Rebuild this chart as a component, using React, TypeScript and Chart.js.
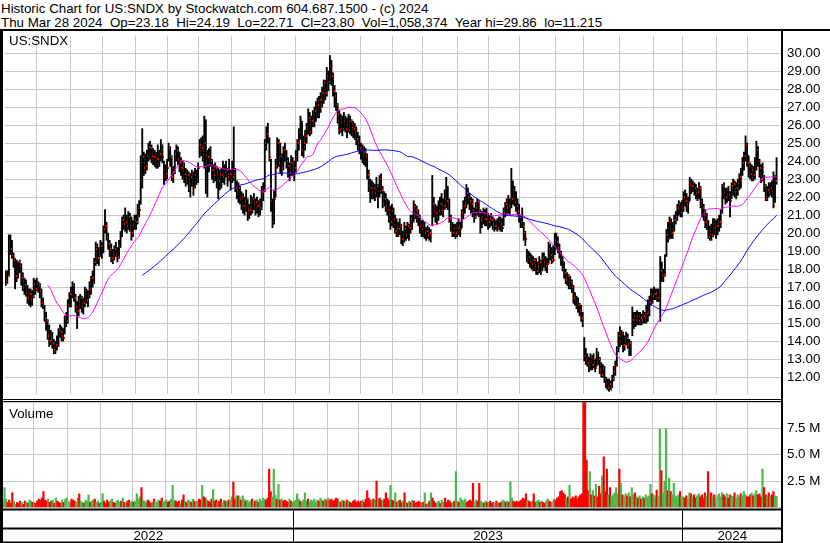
import React, { useEffect, useRef } from "react";
import { Chart, registerables } from "chart.js";

Chart.register(...registerables);

const FONT = "'Liberation Sans', Arial, Helvetica, sans-serif";

// ---- categories: trading-day buckets per month ----
const monthNames = [
  "2022-04", "2022-05", "2022-06", "2022-07", "2022-08", "2022-09", "2022-10", "2022-11", "2022-12",
  "2023-01", "2023-02", "2023-03", "2023-04", "2023-05", "2023-06", "2023-07", "2023-08", "2023-09",
  "2023-10", "2023-11", "2023-12", "2024-01", "2024-02", "2024-03",
];
const monthBars = [20, 22, 21, 21, 21, 20, 21, 21, 20, 22, 20, 21, 19, 23, 20, 20, 23, 18, 23, 22, 19, 22, 20, 19];

// ---- daily price data (US:SNDX) ----
const highs = [
  17.9,17.9,19.9,19.9,19.6,18.9,18.6,18.5,18.4,18.5,18.3,17.8,17.5,17.4,17.1,16.9,16.9,16.8,17.5,17.4,
  17.5,17.3,17.2,16.9,16.4,16.0,15.6,15.2,14.9,14.6,14.5,14.1,14.0,14.3,14.7,14.9,14.8,14.7,15.4,15.6,16.3,16.7,
  17.0,17.3,17.2,16.6,16.2,16.5,16.6,16.5,16.4,17.0,16.9,16.8,17.3,17.6,17.9,18.6,19.5,19.4,19.2,19.6,19.5,
  20.4,21.3,20.6,20.0,19.6,19.4,19.1,19.3,19.5,19.2,19.6,20.1,20.9,21.0,21.4,21.0,21.2,21.1,20.9,20.7,21.0,
  21.0,21.6,21.8,24.3,25.8,24.5,24.4,24.6,25.0,25.1,24.9,24.7,24.6,24.5,24.9,24.6,25.2,24.9,24.0,23.8,24.1,
  25.0,24.8,24.3,23.7,24.6,24.9,24.8,24.5,24.2,24.0,23.9,23.6,23.5,23.4,23.3,23.5,23.4,23.6,23.5,23.9,
  25.2,25.3,25.4,26.5,26.3,24.6,24.7,24.8,24.1,23.8,23.9,23.7,23.6,23.5,23.6,24.0,23.8,24.0,23.6,24.1,23.5,
  24.0,25.9,23.6,22.9,22.8,22.6,22.3,22.2,22.0,22.4,21.9,21.6,22.1,22.0,22.2,21.9,22.0,21.8,21.9,22.6,22.8,
  25.2,25.9,26.1,25.3,24.1,21.9,22.4,24.1,25.3,25.2,25.0,24.4,24.8,25.0,24.6,24.2,23.9,24.3,24.2,24.0,
  24.6,25.2,25.8,26.5,26.2,25.4,25.7,26.1,26.9,26.7,26.5,26.8,27.0,27.3,27.5,27.6,27.8,28.1,28.5,28.5,29.2,29.0,
  29.86,29.6,28.9,28.2,27.8,27.2,26.8,26.6,26.5,26.7,26.5,26.4,26.6,26.5,26.3,26.2,26.1,25.9,25.6,25.4,
  25.0,24.9,24.8,24.7,24.4,23.5,23.0,22.9,22.8,22.7,23.1,22.7,23.2,23.3,22.6,22.3,22.2,21.9,21.8,21.5,21.6,
  21.4,21.0,20.8,20.6,20.8,20.5,20.1,20.6,20.4,20.6,20.5,21.0,21.0,21.8,21.6,21.5,21.3,21.0,20.7,
  20.7,20.6,20.3,20.4,20.3,20.2,23.2,22.0,21.6,21.5,21.8,22.0,22.2,21.9,22.4,23.1,22.6,21.9,21.0,20.6,20.5,20.5,20.6,
  20.8,20.6,21.3,21.8,22.0,22.7,22.5,22.2,22.0,21.9,21.4,21.7,21.9,21.8,21.3,21.2,21.4,21.3,21.4,21.1,
  21.0,21.1,20.9,20.8,20.7,20.8,20.9,20.9,20.8,21.4,21.7,21.9,22.1,21.9,23.6,22.9,22.6,22.3,21.9,21.6,
  21.0,21.4,20.6,20.1,19.1,19.0,18.9,18.8,18.7,18.6,18.6,18.4,18.7,18.5,18.9,18.9,18.7,18.6,19.5,19.4,19.2,19.3,20.0,
  20.0,19.8,19.4,19.0,18.7,18.4,18.0,17.8,17.7,17.6,17.4,17.1,16.7,16.5,16.4,16.1,16.0,15.6,
  14.2,13.6,13.3,13.1,13.3,13.2,13.3,13.0,13.6,13.4,13.1,12.8,12.7,12.6,12.0,11.9,11.9,11.8,12.1,12.6,12.9,13.7,14.5,
  14.8,14.6,14.5,14.3,14.5,14.4,14.1,14.0,15.9,15.6,15.6,15.7,15.6,15.6,15.5,15.7,15.6,16.0,16.3,16.5,16.9,16.9,
  17.0,16.9,16.9,16.9,18.7,18.4,18.0,18.8,20.2,20.6,20.9,20.8,20.6,21.0,21.2,21.6,21.8,21.7,21.8,
  22.3,22.4,22.2,22.0,23.1,23.0,22.9,22.8,22.7,22.5,22.8,22.6,21.9,21.6,21.3,21.1,20.7,20.4,20.5,20.8,20.8,20.7,
  20.8,21.0,21.3,22.7,22.8,22.5,22.5,22.6,22.3,22.8,23.0,22.9,22.8,23.0,23.3,23.6,24.2,24.5,25.4,25.0,
  24.3,23.9,23.8,23.7,24.2,25.1,24.8,24.1,23.8,23.9,23.2,22.7,22.6,22.8,22.8,22.9,23.4,23.2,24.19,
];
const lows = [
  17.1,17.2,17.6,18.8,18.6,18.1,16.9,17.3,17.5,17.8,17.1,16.8,16.6,16.5,16.1,16.0,15.9,16.0,16.4,16.6,
  16.8,16.7,16.4,15.9,15.8,15.1,14.6,14.1,13.7,13.8,13.6,13.3,13.3,13.5,13.7,14.2,14.0,14.0,14.4,14.8,15.0,15.9,
  15.9,16.4,16.2,15.6,14.7,15.4,15.8,15.6,15.5,15.9,16.1,15.9,16.4,16.6,17.0,17.2,18.2,18.3,18.2,18.7,18.6,
  18.9,20.0,19.6,19.1,18.7,18.4,18.3,18.5,18.7,18.4,18.6,19.2,19.8,20.2,20.1,20.0,20.2,20.1,19.6,19.8,20.2,
  20.2,20.5,20.9,21.6,22.5,23.2,23.3,23.5,24.0,24.1,23.9,23.8,23.7,23.6,23.6,23.7,24.0,23.9,22.7,22.9,23.0,
  24.0,23.7,22.9,22.8,23.3,24.0,23.8,23.4,23.2,23.0,22.8,22.6,22.7,22.3,22.0,22.6,22.1,22.5,22.7,22.8,
  24.2,24.3,24.0,23.6,22.2,22.0,23.4,23.7,23.0,22.8,22.9,22.5,21.9,22.4,22.5,22.8,22.7,23.1,22.6,22.9,22.4,
  22.8,22.9,22.3,21.9,21.7,21.6,21.3,21.1,21.0,21.2,20.7,20.8,21.0,21.1,21.3,21.0,21.1,20.9,21.0,21.3,21.8,
  22.3,24.6,25.0,24.0,21.2,20.3,20.5,22.0,23.6,23.7,23.3,23.2,23.5,24.0,23.6,23.1,22.9,23.2,23.2,22.9,
  23.4,24.0,24.6,25.2,24.3,24.2,24.6,25.0,25.5,25.4,25.5,25.9,25.9,26.2,26.4,26.4,26.7,27.0,27.2,27.4,27.6,27.9,
  28.3,28.2,27.6,27.0,26.8,26.1,25.5,25.6,25.4,25.7,25.6,25.3,25.6,25.5,25.4,25.3,25.2,24.9,24.6,24.4,
  24.1,23.9,23.8,23.7,23.0,22.3,21.7,21.9,21.9,21.8,22.0,21.4,22.0,22.2,21.4,21.5,21.2,21.0,20.6,20.2,20.4,
  20.3,20.0,19.8,19.8,19.9,19.4,19.3,19.5,19.6,19.7,19.6,20.0,20.2,20.6,20.8,20.6,20.4,20.0,19.8,
  19.8,19.7,19.6,19.7,19.6,19.5,20.4,20.9,20.6,20.5,20.7,21.0,21.0,20.9,21.3,21.4,21.3,20.6,20.1,19.8,19.8,19.7,19.8,
  19.9,19.8,20.3,20.8,21.1,21.4,21.6,21.3,21.1,20.9,20.6,20.8,21.0,20.9,20.0,20.3,20.5,20.4,20.4,20.2,
  20.3,20.4,20.2,20.1,20.2,20.1,20.2,20.1,20.1,20.4,20.9,21.0,21.1,21.0,21.4,21.6,21.5,21.2,21.0,20.6,
  20.3,20.3,19.6,19.3,18.4,18.3,18.1,18.0,17.9,17.9,17.7,17.7,17.8,17.7,17.9,18.1,17.9,17.8,18.3,18.5,18.3,18.4,18.8,
  19.1,18.9,18.6,18.2,17.9,17.5,17.2,17.1,16.9,16.9,16.7,16.1,16.0,15.8,15.6,15.4,15.1,14.8,
  12.9,12.7,12.6,12.3,12.4,12.4,12.5,12.3,12.6,12.7,12.2,12.0,12.0,11.7,11.4,11.3,11.215,11.3,11.4,11.8,12.1,12.6,13.4,
  13.7,13.8,13.4,13.5,13.8,13.6,13.2,13.2,14.3,14.7,14.8,14.9,14.9,14.9,14.9,15.0,15.0,15.0,15.1,15.4,16.0,16.1,
  16.3,16.3,16.2,16.2,15.1,17.3,17.3,17.6,18.7,19.5,19.7,19.7,19.7,20.1,20.5,20.7,21.0,20.9,20.9,
  21.2,21.5,21.2,21.1,21.8,22.2,22.3,22.1,21.9,21.8,21.9,21.4,20.9,20.7,20.3,20.2,19.7,19.6,19.6,19.8,19.9,19.7,
  19.9,20.1,20.3,21.1,21.9,21.6,21.7,21.8,20.9,21.9,22.1,22.0,21.9,22.1,22.4,22.5,23.2,23.5,24.0,23.7,
  23.1,23.0,22.9,22.9,23.0,23.5,23.7,23.1,22.8,22.9,22.3,21.8,21.8,22.0,22.1,22.0,21.4,21.7,22.71,
];
const closes = [
  17.3,17.6,19.5,19.1,18.8,18.6,17.6,17.9,18.4,18.2,17.5,16.95,17.1,16.7,16.4,16.6,16.3,16.5,17.2,16.9,
  17.2,17.1,16.8,16.1,16.0,15.3,15.1,14.3,14.0,14.1,13.9,13.5,13.8,13.6,14.6,14.5,14.3,14.2,15.3,15.1,16.0,16.6,
  16.6,17.1,16.4,15.9,15.7,16.2,16.4,15.9,16.1,16.8,16.3,16.5,16.9,17.5,17.3,18.4,19.1,18.6,18.9,19.3,18.8,
  20.2,20.4,19.8,19.4,19.1,18.6,18.8,19.1,18.8,18.7,19.3,19.8,20.7,20.5,20.6,20.4,20.9,20.3,20.0,20.5,20.7,
  20.6,20.9,21.3,23.9,24.2,23.6,23.7,24.3,24.8,24.7,24.3,24.2,24.4,24.1,24.1,24.4,24.6,24.2,23.1,23.3,23.6,
  24.7,24.2,23.1,23.4,24.4,24.6,24.1,24.0,23.6,23.8,23.3,23.0,23.2,22.7,23.1,23.3,22.5,23.2,22.9,23.6,
  24.9,24.7,24.1,25.0,24.3,24.2,24.3,24.0,23.5,23.2,23.6,23.4,22.9,23.3,23.2,23.1,23.4,23.5,23.1,23.3,22.7,
  23.1,23.3,22.5,22.4,22.5,21.9,22.0,21.5,21.8,21.9,21.2,21.3,21.8,21.9,21.6,21.7,21.5,21.6,21.4,22.2,22.4,
  25.0,25.5,25.4,24.2,21.8,20.6,21.9,23.7,25.0,23.9,24.3,23.6,24.6,24.3,24.0,23.7,23.4,23.9,23.5,23.6,
  24.2,25.0,25.6,26.3,24.6,25.0,25.4,25.9,26.4,25.6,26.2,26.3,26.8,26.9,27.1,27.4,27.1,27.8,28.4,27.8,28.7,28.4,
  29.3,28.7,27.9,27.6,27.1,26.6,25.7,26.1,25.8,26.2,25.8,26.0,25.7,26.2,25.9,25.8,25.6,25.2,25.0,24.7,
  24.6,24.4,24.5,24.3,23.2,22.6,22.5,22.3,22.5,22.2,22.6,21.9,23.0,22.4,21.6,21.9,21.5,21.3,21.0,20.6,21.2,
  20.8,20.1,20.3,20.2,20.4,19.7,19.6,20.2,19.9,20.4,20.3,20.8,20.6,21.5,21.3,21.2,20.9,20.4,20.2,
  20.4,20.0,20.1,19.9,20.0,19.8,21.6,21.2,21.1,20.9,21.2,21.6,21.3,21.5,21.9,21.8,21.7,20.8,20.4,20.0,20.2,20.0,20.3,
  20.4,20.2,21.1,21.5,21.6,22.2,22.0,21.8,21.6,21.3,20.9,21.4,21.7,21.2,20.7,20.9,21.1,20.8,21.0,20.6,
  20.8,20.7,20.5,20.4,20.4,20.3,20.6,20.5,20.3,21.1,21.6,21.4,21.5,21.3,21.9,22.4,21.7,21.5,21.2,20.9,
  20.6,20.4,20.0,19.7,18.5,18.7,18.4,18.3,18.5,18.2,17.9,18.1,18.4,17.9,18.6,18.4,18.2,18.3,19.1,18.8,18.5,18.5,19.6,
  19.5,19.2,18.9,18.5,18.0,17.8,17.4,17.6,17.1,17.3,17.0,16.4,16.3,16.1,16.0,15.7,15.3,15.2,
  13.2,13.0,12.8,12.6,13.1,12.7,13.0,12.5,13.3,13.0,12.4,12.1,12.5,11.9,11.6,11.4,11.6,11.3,11.9,12.3,12.6,13.5,14.3,
  14.0,14.4,13.8,14.1,14.2,13.8,13.9,13.6,15.2,15.4,15.2,15.4,15.1,15.3,15.2,15.4,15.3,15.5,15.6,16.2,16.6,16.5,
  16.6,16.7,16.4,16.8,17.9,17.6,17.7,18.6,19.9,19.7,20.6,20.0,20.2,20.7,20.9,21.4,21.6,21.1,21.4,
  22.0,21.8,21.6,21.7,22.7,22.6,22.8,22.5,22.2,22.3,22.5,21.8,21.4,21.0,20.6,20.7,19.8,20.1,19.9,20.5,20.3,20.4,
  20.4,20.6,21.1,22.6,22.3,22.0,22.4,22.1,21.8,22.6,22.7,22.3,22.5,22.8,23.1,22.9,23.9,24.3,24.9,23.9,
  23.7,23.3,23.5,23.2,23.4,24.6,24.0,23.6,23.0,23.4,22.6,21.9,22.4,22.2,22.5,22.3,21.5,22.9,23.80,
];
// volume in millions of shares
const volumes = [
  0.6,1.9,0.8,0.5,0.7,0.4,1.4,0.6,0.3,0.5,0.4,0.6,0.5,0.3,0.6,0.5,0.4,0.7,0.6,0.5,
  0.5,0.4,0.6,0.8,0.7,0.9,1.5,0.7,0.6,0.8,0.5,0.6,0.7,0.4,0.9,0.6,0.5,0.4,0.7,0.5,0.8,0.9,
  0.6,0.5,0.8,0.7,0.6,0.5,0.9,1.3,0.6,0.5,0.4,0.7,0.6,1.2,0.5,0.6,0.7,0.8,0.5,0.6,0.4,
  0.5,1.3,0.6,0.4,0.7,0.5,0.6,0.8,0.5,0.4,0.6,0.7,0.5,0.6,0.9,0.5,0.4,0.6,0.7,0.5,0.6,
  0.5,0.6,1.3,0.8,1.0,1.9,0.7,0.6,0.5,0.7,0.6,0.4,0.5,0.8,0.6,0.5,0.7,0.6,0.9,0.5,0.6,
  0.7,0.5,0.6,0.8,2.1,0.7,0.6,0.5,0.6,0.4,0.7,1.2,0.6,0.5,0.7,0.6,0.5,0.8,0.6,0.5,
  0.6,0.8,0.7,2.1,1.0,0.9,0.7,0.6,0.5,0.8,1.7,0.6,0.7,0.5,0.6,0.8,0.5,0.7,0.6,0.5,0.7,
  0.7,1.0,2.4,0.8,1.1,1.1,1.0,0.7,1.1,0.8,0.6,0.7,0.5,0.6,0.8,0.5,0.6,0.7,0.5,0.8,0.6,
  0.9,0.8,0.7,0.9,3.65,1.5,1.0,3.65,1.2,0.8,2.2,0.7,0.8,0.6,0.7,0.6,0.5,0.8,0.6,0.5,
  0.6,0.7,1.3,0.8,0.6,0.5,0.7,1.4,0.6,0.8,0.5,0.7,0.6,0.8,0.5,0.7,0.6,0.9,0.7,0.6,0.8,0.7,
  0.9,0.7,0.8,0.6,0.7,0.9,0.8,0.6,0.5,0.7,0.6,0.5,0.7,0.6,0.5,0.4,0.6,0.7,0.5,0.6,
  0.5,0.6,0.7,0.5,0.8,1.6,0.9,0.7,0.6,0.8,0.7,2.5,0.8,0.9,0.7,0.6,0.8,1.4,0.9,0.7,2.1,
  0.7,0.6,1.4,0.5,0.6,0.7,0.5,0.6,1.4,0.5,0.4,0.6,0.5,0.7,0.6,0.4,0.5,0.6,0.5,
  0.4,0.5,1.4,0.3,0.4,0.6,1.4,0.9,0.6,0.4,0.5,0.6,0.4,0.7,0.5,0.9,0.5,0.7,0.6,0.4,0.5,0.6,3.4,
  0.6,0.5,0.9,0.7,0.6,0.8,0.5,0.6,0.7,0.6,2.3,0.5,0.7,0.6,2.3,0.6,0.5,0.4,0.6,0.5,
  0.5,0.6,0.4,0.5,0.4,0.6,0.5,0.4,0.5,0.7,0.6,0.5,0.6,0.5,2.4,0.9,0.6,0.5,0.6,0.5,
  0.6,0.7,0.9,0.8,1.3,0.7,0.6,0.5,0.6,1.3,0.5,0.6,0.7,0.5,0.6,0.5,0.4,0.6,0.8,0.6,0.5,0.6,0.8,
  0.7,0.9,1.0,1.5,1.6,1.4,1.2,0.9,1.0,2.1,0.8,1.0,0.9,1.1,0.8,1.0,1.2,1.3,
  14.0,11.0,4.5,1.6,3.4,1.2,1.6,1.1,2.2,1.0,2.0,1.3,3.0,4.8,1.5,3.65,1.2,1.9,1.0,1.2,1.4,1.9,1.3,
  3.65,2.3,1.2,1.0,1.3,1.1,1.4,1.0,1.9,1.2,1.4,1.0,0.9,1.1,0.8,1.0,0.9,1.2,1.0,1.1,2.2,1.3,
  1.2,1.0,1.65,1.1,7.4,3.5,1.4,2.5,7.45,1.6,2.8,1.5,1.2,2.3,1.1,1.0,1.2,1.5,1.0,
  1.0,0.9,1.1,0.8,1.4,1.3,1.0,1.2,0.9,1.1,1.3,1.0,1.2,0.9,1.4,1.1,3.4,1.3,1.4,1.0,1.2,0.9,
  1.1,1.3,1.0,1.4,1.2,1.0,1.3,0.9,1.2,1.1,1.0,1.4,0.9,1.2,1.0,1.3,1.1,1.5,1.2,1.0,
  1.0,1.2,1.4,1.1,1.3,1.6,1.2,1.3,1.0,3.65,1.9,1.2,1.1,1.4,1.0,1.2,1.5,1.1,1.06,
];

const priceTicks = [12, 13, 14, 15, 16, 17, 18, 19, 20, 21, 22, 23, 24, 25, 26, 27, 28, 29, 30];
const volumeTicks = [0, 2.5, 5, 7.5, 10];
const yearLabels = ["2022", "2023", "2024"];
const FAST_MA = 28;
const SLOW_MA = 89;
const EMPTY_SLOTS = 3;

// ---- derived structures ----
const labels: string[] = [];
const monthStart = new Set<number>();
const yearStartIdx: number[] = [];
monthNames.forEach((m, mi) => {
  if (mi > 0) monthStart.add(labels.length);
  if (mi > 0 && m.endsWith("-01")) yearStartIdx.push(labels.length);
  for (let k = 1; k <= monthBars[mi]; k++) labels.push(`${m}-${String(k).padStart(2, "0")}`);
});
for (let k = 0; k < EMPTY_SLOTS; k++) labels.push(`pad${k}`);

const pad = (arr: any[]) => [...arr, ...Array(EMPTY_SLOTS).fill(null)];
const sma = (p: number) =>
  closes.map((_, i) => {
    if (i < p - 1) return null;
    let s = 0;
    for (let j = i - p + 1; j <= i; j++) s += closes[j];
    return s / p;
  });

const GREEN = "#4db84d";
const RED = "#ff0000";
const GRAY = "#a8a8a8";
const volColors = closes.map((c, i) =>
  i === 0 ? GREEN : c > closes[i - 1] ? GREEN : c < closes[i - 1] ? RED : GRAY
);
const GRID = "#c8c8c8";

// close mark: small red tick on the right edge of its bar
function makeCloseMark(): HTMLCanvasElement {
  const c = document.createElement("canvas");
  c.width = 3;
  c.height = 2;
  const g = c.getContext("2d")!;
  g.fillStyle = RED;
  g.fillRect(2, 0, 1, 2);
  return c;
}

const xScale = () => ({
  type: "category" as const,
  offset: true,
  grid: {
    offset: true,
    drawTicks: false,
    color: (ctx: any) => (monthStart.has(ctx.index) ? GRID : "rgba(0,0,0,0)"),
  },
  border: { display: false },
  ticks: { display: false, autoSkip: false },
  afterFit: (s: any) => {
    s.height = 0;
    s.paddingLeft = 0;
    s.paddingRight = 0;
  },
});

const yearRowsPlugin = {
  id: "yearRows",
  afterDraw(chart: any) {
    const { ctx } = chart;
    const x = chart.scales.x;
    const bottom = chart.chartArea.bottom;
    const right = 783;
    ctx.save();
    ctx.fillStyle = "#000";
    const r1 = Math.round(bottom) + 0.5;
    ctx.fillRect(0, r1, right, 2);
    ctx.fillRect(0, r1 + 19, right, 2);
    ctx.fillRect(0, r1 + 33, right, 2);
    const seps = yearStartIdx.map((idx) => {
      const b = (x.getPixelForValue(idx - 1) + x.getPixelForValue(idx)) / 2;
      return Math.round(b) + 0.5;
    });
    ctx.strokeStyle = "#000";
    ctx.lineWidth = 1;
    seps.forEach((sx) => {
      ctx.beginPath();
      ctx.moveTo(sx, r1 + 2);
      ctx.lineTo(sx, r1 + 33);
      ctx.stroke();
    });
    const bounds = [3, ...seps, 782];
    ctx.font = `13.33px ${FONT}`;
    ctx.textAlign = "center";
    ctx.textBaseline = "alphabetic";
    yearLabels.forEach((t, i) => {
      ctx.fillText(t, (bounds[i] + bounds[i + 1]) / 2, r1 + 31.5);
    });
    ctx.restore();
  },
};

function priceConfig(mark: HTMLCanvasElement): any {
  return {
    type: "bar",
    data: {
      labels,
      datasets: [
        {
          type: "bar",
          data: pad(highs.map((h, i) => [lows[i], h])),
          backgroundColor: "#000",
          barThickness: 1.2,
          order: 4,
        },
        {
          type: "line",
          data: pad(closes),
          showLine: false,
          pointStyle: mark,
          pointRadius: 2,
          order: 3,
        },
        {
          type: "line",
          data: pad(sma(FAST_MA)),
          borderColor: "#ff00ff",
          borderWidth: 1,
          pointRadius: 0,
          order: 2,
        },
        {
          type: "line",
          data: pad(sma(SLOW_MA)),
          borderColor: "#0000ff",
          borderWidth: 1,
          pointRadius: 0,
          order: 1,
        },
      ],
    },
    options: {
      animation: false,
      responsive: false,
      events: [],
      layout: { padding: { left: 2.2, right: 0, top: 0, bottom: 0 } },
      plugins: { legend: { display: false }, tooltip: { enabled: false } },
      scales: {
        x: xScale(),
        y: {
          position: "right",
          min: 11.065,
          max: 30.945,
          afterBuildTicks: (s: any) => {
            s.ticks = priceTicks.map((value) => ({ value }));
          },
          ticks: {
            color: "#000",
            padding: 5,
            font: { family: FONT, size: 13.33 },
            callback: (v: any) => Number(v).toFixed(2),
          },
          grid: { color: GRID, drawTicks: false },
          border: { display: false },
          afterFit: (s: any) => {
            s.width = 48;
            s.paddingTop = 0;
            s.paddingBottom = 0;
          },
        },
      },
    },
  };
}

function volumeConfig(): any {
  return {
    type: "bar",
    data: {
      labels,
      datasets: [
        {
          data: pad(volumes),
          backgroundColor: pad(volColors),
          barPercentage: 1,
          categoryPercentage: 1,
          borderWidth: 0,
        },
      ],
    },
    options: {
      animation: false,
      responsive: false,
      events: [],
      layout: { padding: { left: 2.2, right: 0, top: 0, bottom: 35.5 } },
      plugins: { legend: { display: false }, tooltip: { enabled: false } },
      scales: {
        x: xScale(),
        y: {
          position: "right",
          min: 0,
          max: 10,
          afterBuildTicks: (s: any) => {
            s.ticks = volumeTicks.map((value) => ({ value }));
          },
          ticks: {
            color: "#000",
            padding: 5,
            font: { family: FONT, size: 13.33 },
            callback: (v: any) => (v > 0 && v < 10 ? `${Number(v).toFixed(1)} M` : ""),
          },
          grid: { color: GRID, drawTicks: false },
          border: { display: false },
          afterFit: (s: any) => {
            s.width = 48;
            s.paddingTop = 0;
            s.paddingBottom = 0;
          },
        },
      },
    },
    plugins: [yearRowsPlugin],
  };
}

const Line = ({ l, t, w, h }: { l: number; t: number; w: number; h: number }) => (
  <div style={{ position: "absolute", left: l, top: t, width: w, height: h, background: "#000" }} />
);

export default function App() {
  const priceRef = useRef<HTMLCanvasElement>(null);
  const volRef = useRef<HTMLCanvasElement>(null);

  useEffect(() => {
    const pc = new Chart(priceRef.current as HTMLCanvasElement, priceConfig(makeCloseMark()));
    const vc = new Chart(volRef.current as HTMLCanvasElement, volumeConfig());
    return () => {
      pc.destroy();
      vc.destroy();
    };
  }, []);

  const textStyle: React.CSSProperties = {
    position: "absolute",
    fontFamily: FONT,
    fontSize: 13.33,
    color: "#000",
    whiteSpace: "pre",
    lineHeight: "normal",
  };

  return (
    <div
      style={{
        position: "absolute",
        left: 0,
        top: 0,
        width: 830,
        height: 543,
        background: "#fff",
        overflow: "hidden",
      }}
    >
      <div style={{ ...textStyle, left: 1, top: 0.5 }}>
        Historic Chart for US:SNDX by Stockwatch.com 604.687.1500 - (c) 2024
      </div>
      <div style={{ ...textStyle, left: 1, top: 15 }}>
        {"Thu Mar 28 2024  Op=23.18  Hi=24.19  Lo=22.71  Cl=23.80  Vol=1,058,374  Year hi=29.86  lo=11.215"}
      </div>
      <canvas
        ref={priceRef}
        width={830}
        height={368}
        style={{ position: "absolute", left: 0, top: 31, display: "block" }}
      />
      <canvas
        ref={volRef}
        width={830}
        height={141}
        style={{ position: "absolute", left: 0, top: 402, display: "block" }}
      />
      <div style={{ ...textStyle, left: 9, top: 33 }}>US:SNDX</div>
      <div style={{ ...textStyle, left: 9, top: 406 }}>Volume</div>
      {/* frame */}
      <Line l={0} t={29} w={830} h={2} />
      <Line l={0} t={29} w={3} h={514} />
      <Line l={781} t={29} w={2} h={514} />
      <Line l={0} t={399} w={783} h={1} />
      <Line l={0} t={401} w={783} h={1} />
    </div>
  );
}
